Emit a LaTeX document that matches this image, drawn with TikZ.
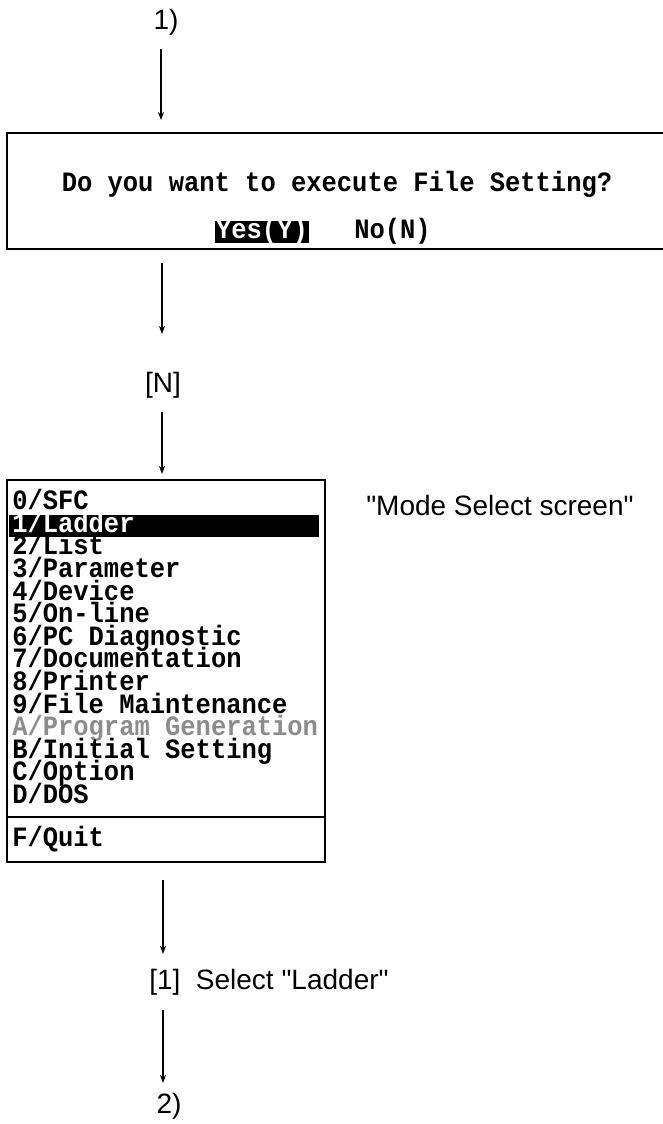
\documentclass[tikz,border=0pt]{standalone}
\usepackage{fontspec}
\setmainfont{Liberation Sans}[Ligatures=TeXOff]
\newfontfamily\scrfont{Liberation Mono}[FakeStretch=0.91]
\usetikzlibrary{arrows.meta}
\begin{document}
\begin{tikzpicture}[x=0.75pt,y=-0.75pt,
  lbl/.style={font=\fontsize{21}{25}\selectfont, inner sep=0pt},
  scr/.style={font=\scrfont\bfseries\fontsize{21}{23}\selectfont, inner sep=0pt, text height=12pt, text depth=2pt},
  arr/.style={line width=1.1pt, -{Stealth[length=6pt,width=4.5pt]}},
  frame/.style={line width=1.6pt},
  item/.style={scr, anchor=west}]
\useasboundingbox (0,0) rectangle (662,1124);
% top label
\node[lbl] (one) at (166,22) {1)};
% dialog
\node[draw, frame, inner sep=0pt, minimum width=497pt, minimum height=87pt] (dlg) at (338.5,191) {};
\node[scr, anchor=base] (q) at (337,191) {Do you want to execute File Setting?};
\node[scr, fill=black, text=white, inner xsep=1pt, inner ysep=1.5pt] (yes) at (262,232) {Yes(Y)};
\node[scr, anchor=west] (no) at (354,232) {No(N)};
% [N]
\node[lbl] (n) at (163,385) {[N]};
% menu
\node[draw, frame, inner sep=0pt, minimum width=238.5pt, minimum height=286.5pt] (menu) at (166,671) {};
\coordinate (sepy) at (0,817);
\draw[frame] (menu.west |- sepy) -- (menu.east |- sepy);
\node[fill=black, inner sep=0pt, minimum width=232.5pt, minimum height=16.5pt] (hl) at (164,526) {};
\node[item] (m0) at (12,503.0) {0/SFC};
\node[item, text=white] (m1) at (12,525.6) {1/Ladder};
\node[item] (m2) at (12,548.2) {2/List};
\node[item] (m3) at (12,570.8) {3/Parameter};
\node[item] (m4) at (12,593.4) {4/Device};
\node[item] (m5) at (12,616.0) {5/On-line};
\node[item] (m6) at (12,638.6) {6/PC Diagnostic};
\node[item] (m7) at (12,661.2) {7/Documentation};
\node[item] (m8) at (12,683.8) {8/Printer};
\node[item] (m9) at (12,706.4) {9/File Maintenance};
\node[item, text=black!45] (mA) at (12,729.0) {A/Program Generation};
\node[item] (mB) at (12,751.6) {B/Initial Setting};
\node[item] (mC) at (12,774.2) {C/Option};
\node[item] (mD) at (12,796.8) {D/DOS};
\node[item] (mF) at (12,840) {F/Quit};
\node[lbl, anchor=west] (mode) at (366,505) {"Mode Select screen"};
% bottom labels
\node[lbl, anchor=west] (sel) at (149,982) {[1]\ \ Select "Ladder"};
\node[lbl] (two) at (169,1106) {2)};
% arrows
\coordinate (a1s) at (161,49);  \coordinate (a1e) at (161,120);
\coordinate (a2s) at (162,263); \coordinate (a2e) at (162,334);
\coordinate (a3s) at (162,412); \coordinate (a3e) at (162,474);
\coordinate (a4s) at (163,880); \coordinate (a4e) at (163,954);
\coordinate (a5s) at (163,1010); \coordinate (a5e) at (163,1083);
\draw[arr] (a1s) -- (a1e);
\draw[arr] (a2s) -- (a2e);
\draw[arr] (a3s) -- (a3e);
\draw[arr] (a4s) -- (a4e);
\draw[arr] (a5s) -- (a5e);
\end{tikzpicture}
\end{document}
